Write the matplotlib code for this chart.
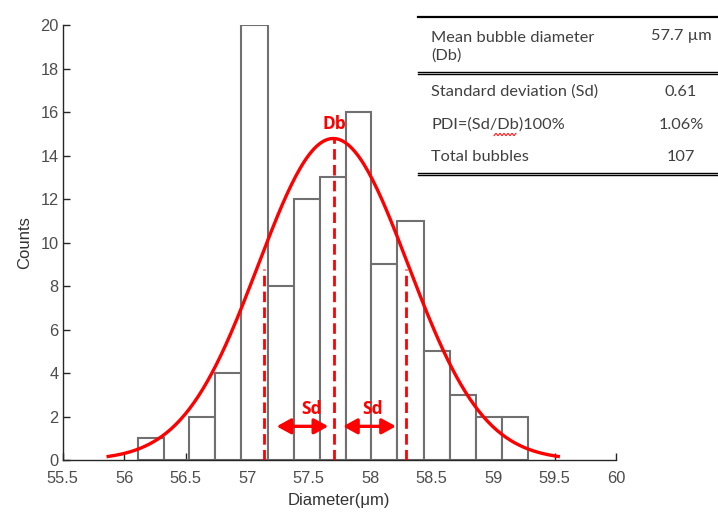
import numpy as np
import matplotlib.pyplot as plt

# histogram
bin_edges = [56.11, 56.32, 56.53, 56.74, 56.95, 57.17, 57.38, 57.59, 57.80,
             58.01, 58.22, 58.44, 58.65, 58.86, 59.07, 59.28]
counts = [1, 0, 2, 4, 20, 8, 12, 13, 16, 9, 11, 5, 3, 2, 2]

# fit / table values
mean_d = 57.7
sd = 0.61
n_bubbles = 107
sd_lines = [57.14, 57.71, 58.29]
table_labels = ["Mean bubble diameter\n(Db)", "Standard deviation (Sd)",
                "PDI=(Sd/Db)100%", "Total bubbles"]
table_values = ["57.7 µm", "0.61", "1.06%", "107"]

plt.rcParams['font.family'] = ['Liberation Sans', 'DejaVu Sans']
axcol = '#262626'

fig = plt.figure(figsize=(7.18, 5.14), dpi=100)
ax = fig.add_axes([0.0873, 0.105, 0.7707, 0.846])

edges = np.array(bin_edges)
ax.bar(edges[:-1], counts, width=np.diff(edges), align='edge',
       facecolor='white', edgecolor='#707070', linewidth=1.5, zorder=2)

# normal fit curve (mean +- 3 sd), scaled to counts
bw = np.mean(np.diff(edges))
xs = np.linspace(mean_d - 3 * sd, mean_d + 3 * sd, 200)
ys = n_bubbles * bw / (sd * np.sqrt(2 * np.pi)) * np.exp(-(xs - mean_d) ** 2 / (2 * sd ** 2))
ax.plot(xs, ys, color='red', lw=2.4, zorder=4)

# dashed lines for Db and +-Sd
tops = [8.8, 14.8, 8.8]
for xv, tp in zip(sd_lines, tops):
    ax.plot([xv, xv], [0, tp], color='red', lw=2.0, dashes=(3.8, 1.9), zorder=5)

redfont = ['Open Sans', 'DejaVu Sans']
ax.text(sd_lines[1], 15.05, "Db", color='red', fontweight='bold', fontsize=12.5,
        ha='center', va='bottom', family=redfont, zorder=6)

# Sd arrows
arr = dict(arrowstyle='<|-|>,head_length=0.6,head_width=0.33', color='red', lw=2.4,
           mutation_scale=14, shrinkA=0, shrinkB=0)
ax.annotate('', xy=(57.24, 1.55), xytext=(57.66, 1.55), arrowprops=arr, zorder=6)
ax.annotate('', xy=(57.78, 1.55), xytext=(58.21, 1.55), arrowprops=arr, zorder=6)
ax.text(57.52, 1.95, "Sd", color='red', fontweight='bold', fontsize=12.5,
        ha='center', va='bottom', family=redfont)
ax.text(58.02, 1.95, "Sd", color='red', fontweight='bold', fontsize=12.5,
        ha='center', va='bottom', family=redfont)

ax.set_xlim(55.5, 60)
ax.set_ylim(0, 20)
ax.set_xticks(np.arange(55.5, 60.01, 0.5))
ax.set_xticklabels(['55.5', '56', '56.5', '57', '57.5', '58', '58.5', '59', '59.5', '60'])
ax.set_yticks(np.arange(0, 21, 2))
for s in ['top', 'right']:
    ax.spines[s].set_visible(False)
for s in ['left', 'bottom']:
    ax.spines[s].set_color(axcol)
    ax.spines[s].set_linewidth(1.0)
ax.tick_params(direction='in', length=5, width=1.0, colors=axcol,
               labelsize=11.8, labelcolor='#4d4d4d')
ax.tick_params(axis='x', pad=8)
ax.tick_params(axis='y', pad=3)
ax.set_xlabel("Diameter(μm)", fontsize=12, color='#333333', labelpad=5)
ax.set_ylabel("Counts", fontsize=12, color='#333333', labelpad=6)

# table at top right (figure pixels -> fractions)
W, H = 718.0, 514.0
tfont = ['Lato', 'DejaVu Sans']
tcol = '#404040'
def fy(p):
    return 1 - p / H

fig.add_artist(plt.Line2D([418 / W, 1.0], [fy(16.5), fy(16.5)], color='black', lw=1.6))
fig.add_artist(plt.Line2D([418 / W, 1.0], [fy(72), fy(72)], color='black', lw=1.0))
fig.add_artist(plt.Line2D([418 / W, 1.0], [fy(74), fy(74)], color='black', lw=1.0))
fig.add_artist(plt.Line2D([418 / W, 1.0], [fy(173), fy(173)], color='black', lw=1.0))
fig.add_artist(plt.Line2D([418 / W, 1.0], [fy(175), fy(175)], color='black', lw=1.0))

row_y = [47, 91.5, 125, 157]
for lab, val, ry in zip(table_labels, table_values, row_y):
    fig.text(431 / W, fy(ry), lab, fontsize=11.8, color=tcol, family=tfont,
             ha='left', va='center', linespacing=1.3)
    vy = ry if '\n' not in lab else 36
    fig.text(681 / W, fy(vy), val, fontsize=11.8, color=tcol, family=tfont,
             ha='center', va='center')

# red squiggle under "Db" in PDI row (spell check mark)
sq_x = np.linspace(494, 516, 12)
sq_y = 134.5 + 1.2 * (-1) ** np.arange(12)
fig.add_artist(plt.Line2D(sq_x / W, fy(sq_y), color='red', lw=0.7))

fig.savefig('out.png', dpi=100)
